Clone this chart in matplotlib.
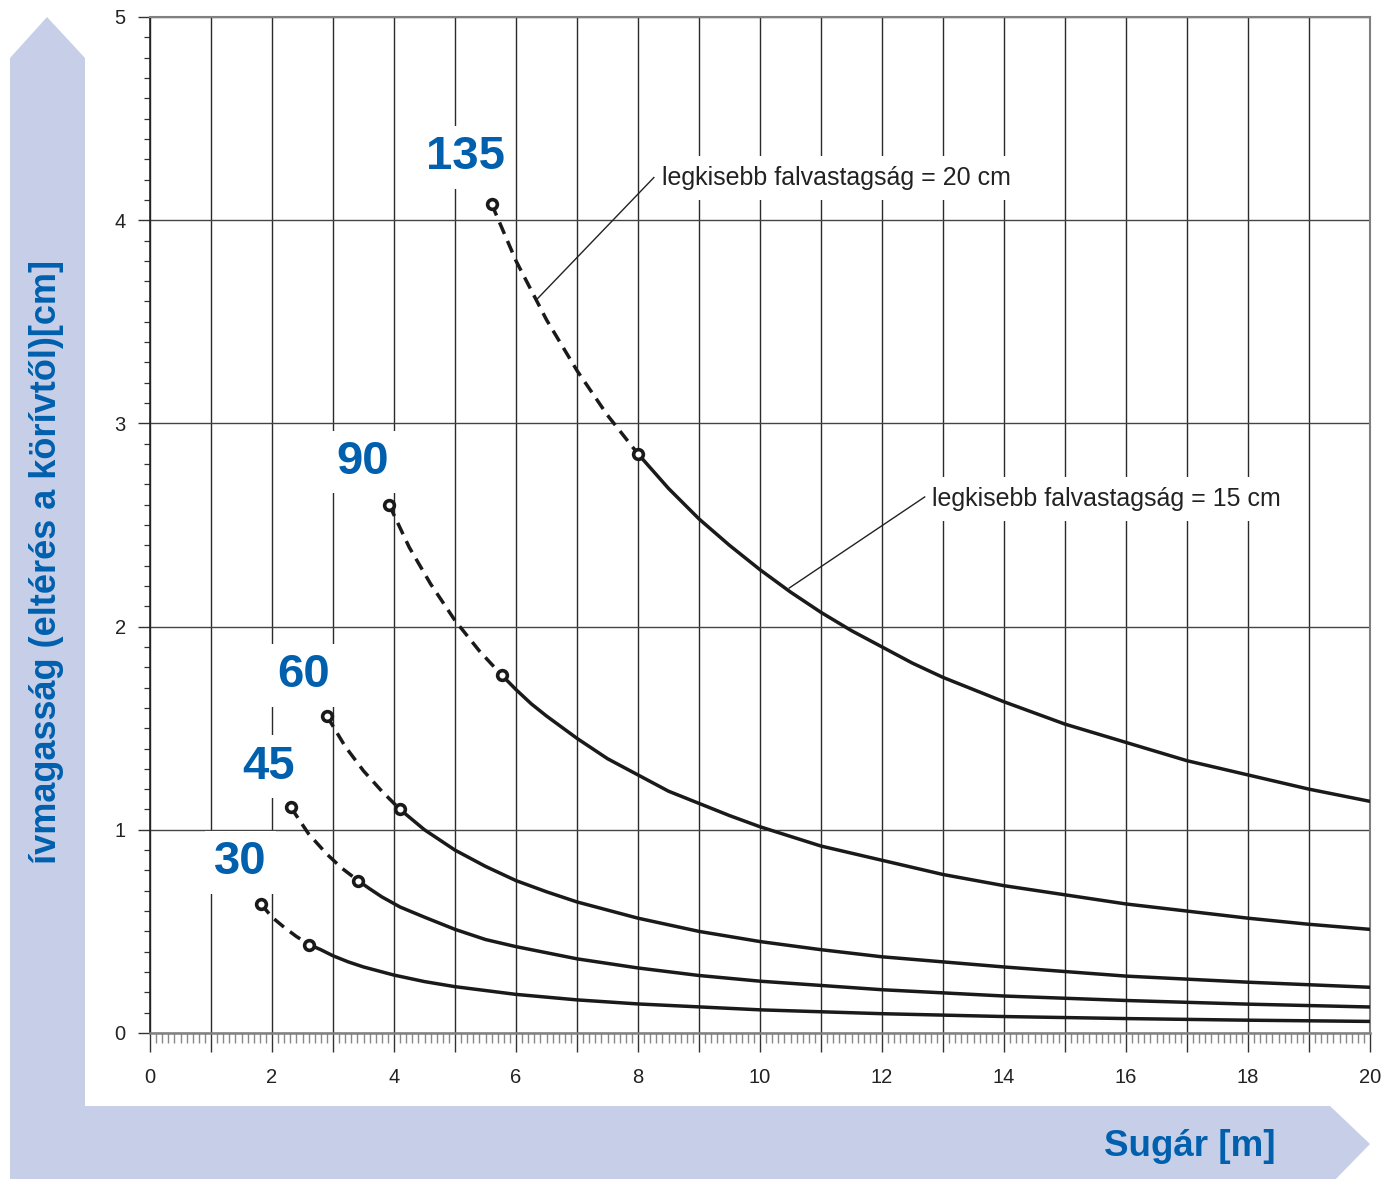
import matplotlib
matplotlib.use("Agg")
import matplotlib.pyplot as plt
from matplotlib.patches import Polygon
from matplotlib.ticker import FixedLocator, MultipleLocator

# ---------------- data ----------------
x_major_ticks = list(range(0, 21))
x_tick_labels = [str(v) if v % 2 == 0 else "" for v in x_major_ticks]
y_major_ticks = [0, 1, 2, 3, 4, 5]
y_tick_labels = ["0", "1", "2", "3", "4", "5"]

curve_names = ["135", "90", "60", "45", "30"]

# dashed segments (from first marker to second marker)
dash_r = {
    "135": [5.6, 6.0, 6.5, 7.0, 7.5, 8.0],
    "90": [3.92, 4.25, 4.6, 5.0, 5.4, 5.77],
    "60": [2.9, 3.2, 3.5, 3.8, 4.1],
    "45": [2.31, 2.6, 2.9, 3.15, 3.41],
    "30": [1.82, 2.0, 2.2, 2.4, 2.61],
}
dash_h = {
    "135": [4.08, 3.80, 3.51, 3.26, 3.04, 2.85],
    "90": [2.60, 2.39, 2.21, 2.03, 1.88, 1.76],
    "60": [1.56, 1.41, 1.29, 1.19, 1.10],
    "45": [1.11, 0.98, 0.88, 0.81, 0.75],
    "30": [0.635, 0.57, 0.52, 0.475, 0.435],
}
# solid segments (from second marker to R = 20)
solid_r = {
    "135": [8.0, 8.5, 9, 9.5, 10, 10.5, 11, 11.5, 12, 12.5, 13, 13.5, 14, 15, 16, 17, 18, 19, 20],
    "90": [5.77, 6, 6.25, 6.5, 7, 7.5, 8, 8.5, 9, 9.5, 10, 11, 12, 13, 14, 15, 16, 17, 18, 19, 20],
    "60": [4.1, 4.3, 4.5, 4.75, 5, 5.5, 6, 6.5, 7, 8, 9, 10, 11, 12, 14, 16, 18, 20],
    "45": [3.41, 3.6, 3.8, 4.1, 4.5, 5, 5.5, 6, 7, 8, 9, 10, 12, 14, 16, 18, 20],
    "30": [2.61, 2.8, 3.0, 3.25, 3.5, 4, 4.5, 5, 6, 7, 8, 10, 12, 14, 16, 18, 20],
}
solid_h = {
    "135": [2.85, 2.68, 2.53, 2.40, 2.28, 2.17, 2.07, 1.98, 1.90, 1.82, 1.75, 1.69, 1.63,
            1.52, 1.43, 1.34, 1.27, 1.20, 1.14],
    "90": [1.76, 1.69, 1.62, 1.56, 1.45, 1.35, 1.27, 1.19, 1.13, 1.07, 1.015, 0.92, 0.85,
           0.78, 0.725, 0.68, 0.635, 0.60, 0.565, 0.535, 0.51],
    "60": [1.10, 1.05, 1.00, 0.95, 0.90, 0.82, 0.75, 0.695, 0.645, 0.565, 0.50, 0.45,
           0.41, 0.375, 0.325, 0.28, 0.25, 0.225],
    "45": [0.75, 0.71, 0.67, 0.62, 0.57, 0.51, 0.46, 0.425, 0.365, 0.32, 0.283, 0.255,
           0.213, 0.182, 0.16, 0.142, 0.128],
    "30": [0.435, 0.41, 0.38, 0.35, 0.325, 0.285, 0.253, 0.228, 0.19, 0.163, 0.143,
           0.114, 0.095, 0.081, 0.071, 0.063, 0.057],
}
# curve label positions (data coords)
label_x = {"135": 5.18, "90": 3.49, "60": 2.52, "45": 1.95, "30": 1.48}
label_y = {"135": 4.31, "90": 2.81, "60": 1.76, "45": 1.31, "30": 0.84}

note_texts = ["legkisebb falvastagság = 20 cm", "legkisebb falvastagság = 15 cm"]
note_text_xy = [(8.4, 4.21), (12.82, 2.63)]
note_line_start = [(8.26, 4.21), (12.70, 2.638)]
note_line_end = [(6.34, 3.61), (10.48, 2.19)]

x_label = "Sugár [m]"
y_label = "ívmagasság (eltérés a körívtől)[cm]"

# ---------------- style ----------------
W, H = 1386, 1179
BLUE = "#0060AE"
BAND = "#C6CFE7"
FONT = "Liberation Sans"
plt.rcParams["font.family"] = [FONT, "DejaVu Sans"]

fig = plt.figure(figsize=(W / 100, H / 100), dpi=100)


def fp(x, y):
    return (x / W, 1 - y / H)


band = Polygon([fp(10, 1185), fp(10, 58), fp(47, 17), fp(85, 58), fp(85, 1106),
                fp(1330, 1106), fp(1370, 1144), fp(1330, 1185)],
               closed=True, transform=fig.transFigure, facecolor=BAND,
               edgecolor="none", zorder=0)
fig.patches.append(band)

ax = fig.add_axes([150 / W, (H - 1033) / H, 1220 / W, 1016 / H])
ax.set_xlim(0, 20)
ax.set_ylim(0, 5)
ax.set_facecolor("white")
ax.set_axisbelow(True)

ax.xaxis.set_major_locator(FixedLocator(x_major_ticks))
ax.set_xticklabels(x_tick_labels)
ax.xaxis.set_minor_locator(MultipleLocator(0.1))
ax.yaxis.set_major_locator(FixedLocator(y_major_ticks))
ax.set_yticklabels(y_tick_labels)
ax.yaxis.set_minor_locator(MultipleLocator(0.1))

ax.grid(True, which="major", axis="x", color="#2a2a2a", linewidth=1.0)
ax.grid(True, which="major", axis="y", color="#444444", linewidth=1.0)

ax.tick_params(axis="x", which="major", direction="out", length=13.5, width=1.0,
               color="#333333", pad=12, labelsize=14.5, labelcolor="#222222")
ax.tick_params(axis="x", which="minor", direction="out", length=7, width=1.0,
               color="#888888")
ax.tick_params(axis="y", which="major", direction="out", length=8.5, width=1.0,
               color="#333333", pad=9, labelsize=14.5, labelcolor="#222222")
ax.tick_params(axis="y", which="minor", direction="out", length=4.5, width=0.9,
               color="#333333")

for s in ["top", "right"]:
    ax.spines[s].set_color("#808080")
    ax.spines[s].set_linewidth(1.5)
ax.spines["bottom"].set_color("#808080")
ax.spines["bottom"].set_linewidth(1.8)
ax.spines["left"].set_color("#222222")
ax.spines["left"].set_linewidth(1.2)

# curves
for name in curve_names:
    ax.plot(dash_r[name], dash_h[name], color="#1a1a1a", linewidth=2.5,
            linestyle=(0, (3.6, 2.2)), zorder=4, solid_joinstyle="round")
    ax.plot(solid_r[name], solid_h[name], color="#1a1a1a", linewidth=2.5,
            linestyle="-", zorder=4, solid_joinstyle="round")
    ax.plot([dash_r[name][0], solid_r[name][0]], [dash_h[name][0], solid_h[name][0]],
            linestyle="none", marker="o", markersize=7, markerfacecolor="white",
            markeredgecolor="#1a1a1a", markeredgewidth=2.6, zorder=5)
    ax.text(label_x[name], label_y[name], name, color=BLUE, fontsize=34,
            fontweight="bold", ha="center", va="center", zorder=6,
            bbox=dict(boxstyle="square,pad=0.2", facecolor="white",
                      edgecolor="none"))

# notes
for txt, (tx, ty), (sx, sy), (ex, ey) in zip(note_texts, note_text_xy,
                                            note_line_start, note_line_end):
    ax.text(tx, ty, txt, fontsize=18, color="#222222", ha="left", va="center",
            zorder=6, bbox=dict(boxstyle="square,pad=0.4", facecolor="white",
                                edgecolor="none"))
    ax.plot([sx, ex], [sy, ey], color="#222222", linewidth=1.0, zorder=7)

# axis titles on the band
fig.text(1190 / W, 1 - 1146 / H, x_label, color=BLUE, fontsize=26.5,
         fontweight="bold", ha="center", va="center")
fig.text(47 / W, 1 - 562 / H, y_label, color=BLUE, fontsize=26,
         fontweight="bold", ha="center", va="center", rotation=90)

fig.savefig("out.png", dpi=100)
